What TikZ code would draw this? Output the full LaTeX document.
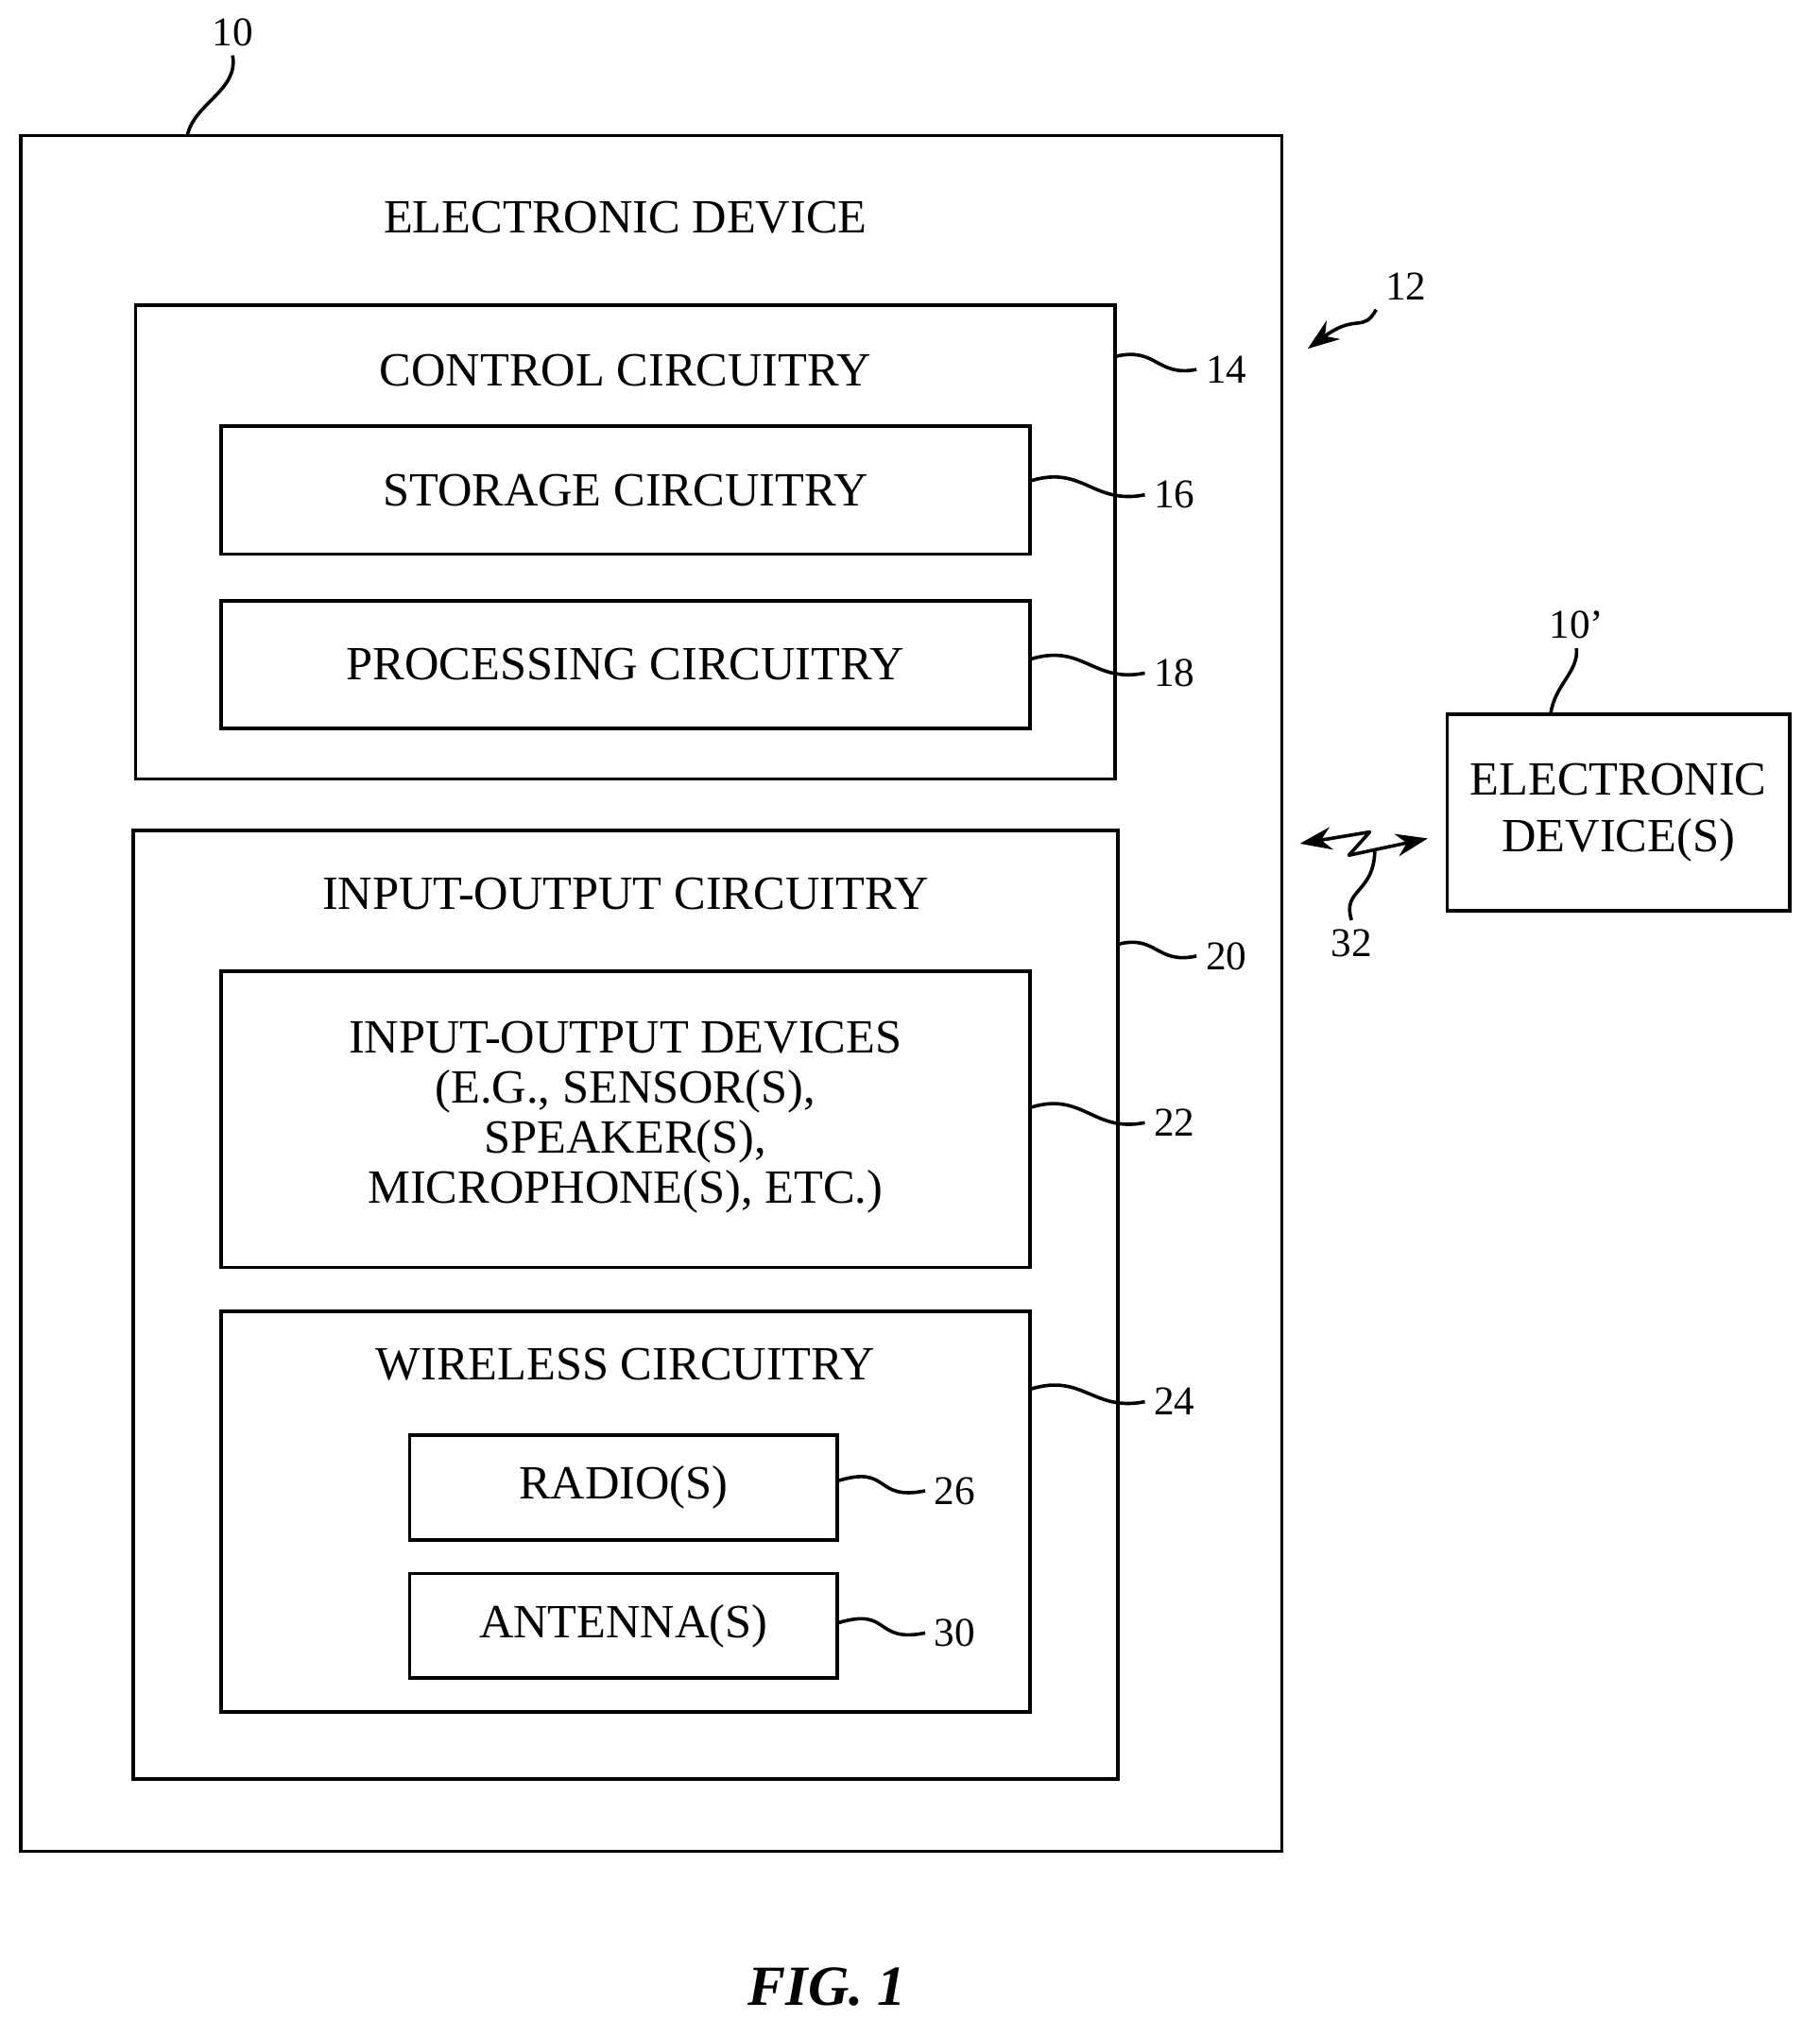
\documentclass[tikz,border=0pt]{standalone}
\usepackage{fontspec}
\setmainfont{Liberation Serif}
\usetikzlibrary{fit,arrows.meta}

\begin{document}
\begin{tikzpicture}[x=0.02cm,y=-0.02cm,line width=1.5pt,
    box/.style={draw,inner sep=0pt},
    txt/.style={font=\fontsize{21}{25}\selectfont,align=center},
    num/.style={font=\fontsize{18}{21}\selectfont}]
        \useasboundingbox (0,0) rectangle (1408,1576);
        % boxes
        \node[box,fit={(16,105) (992,1433)}] (device) {};
        \node[box,fit={(105,236) (863,603)}] (control) {};
        \node[box,fit={(171,330) (797,429)}] (storage) {};
        \node[box,fit={(171,465) (797,564)}] (processing) {};
        \node[box,fit={(103,643) (865,1377)}] (io) {};
        \node[box,fit={(171,752) (797,981)}] (iodev) {};
        \node[box,fit={(171,1015) (797,1325)}] (wireless) {};
        \node[box,fit={(317,1111) (648,1192)}] (radio) {};
        \node[box,fit={(317,1218) (648,1299)}] (antenna) {};
        \node[box,fit={(1120,553) (1385,705)}] (other) {};
        % text
        \node[txt] (tdevice) at (484,168) {ELECTRONIC DEVICE};
        \node[txt] (tcontrol) at (484,287) {CONTROL CIRCUITRY};
        \node[txt] at (storage) {STORAGE CIRCUITRY};
        \node[txt] at (processing) {PROCESSING CIRCUITRY};
        \node[txt] (tio) at (484,692) {INPUT-OUTPUT CIRCUITRY};
        \node[txt,font=\fontsize{21}{22}\selectfont] at (484,865) {INPUT-OUTPUT DEVICES\\(E.G., SENSOR(S),\\SPEAKER(S),\\MICROPHONE(S), ETC.)};
        \node[txt] (twireless) at (484,1056) {WIRELESS CIRCUITRY};
        \node[txt] at (radio) {RADIO(S)};
        \node[txt] at (antenna) {ANTENNA(S)};
        \node[txt] at (other) {ELECTRONIC\\DEVICE(S)};
        \node[font=\fontsize{25}{30}\selectfont\bfseries\itshape] (fig) at (640,1538) {FIG. 1};
        % reference numerals
        \node[num] (l10) at (180,25) {10};
        \node[num] (l10p) at (1220,484) {10'};
        \node[num] (l12) at (1088,222) {12};
        \node[num,anchor=west] (l14) at (926,286) {14};
        \node[num,anchor=west] (l16) at (886,383) {16};
        \node[num,anchor=west] (l18) at (886,521) {18};
        \node[num,anchor=west] (l20) at (926,740) {20};
        \node[num,anchor=west] (l22) at (886,869) {22};
        \node[num,anchor=west] (l24) at (886,1085) {24};
        \node[num,anchor=west] (l26) at (716,1154) {26};
        \node[num,anchor=west] (l30) at (716,1264) {30};
        \node[num] (l32) at (1046,730) {32};
        % leaders
        \coordinate (c10) at (145,105);
        \coordinate (c10p) at (1200,553);
        \coordinate (c14) at (863,276);
        \coordinate (c20) at (865,731);
        \draw (c10) .. controls (150,80) and (185,70) .. (l10.south);
        \draw (c10p) .. controls (1203,530) and (1222,520) .. (l10p.south);
        \draw (c14) .. controls (895,268) and (895,292) .. (l14.west);
        \draw (c20) .. controls (895,723) and (895,747) .. (l20.west);
        \foreach \b/\y/\l in {storage/372/l16,processing/510/l18,iodev/857/l22,wireless/1075/l24,radio/1146/l26,antenna/1256/l30}
            \draw (\b.east |- 0,\y) .. controls +(40,-12) and +(-40,8) .. (\l.west);
        % arrows
        \coordinate (a12) at (1012,270);
        \draw[-{Stealth[length=14pt,width=10pt]}] (l12.south west) .. controls (1055,258) and (1050,242) .. (a12);
        \coordinate (wl) at (1006,653);
        \coordinate (wr) at (1105,649);
        \coordinate (z1) at (1060,644);
        \coordinate (z2) at (1044,662);
        \draw[{Stealth[length=14pt,width=10pt]}-{Stealth[length=14pt,width=10pt]},line join=round]
            (wl) -- (z1) -- (z2) -- (wr);
        \draw (1064,657) .. controls (1064,692) and (1038,688) .. (l32.north);
    \end{tikzpicture}
\end{document}
